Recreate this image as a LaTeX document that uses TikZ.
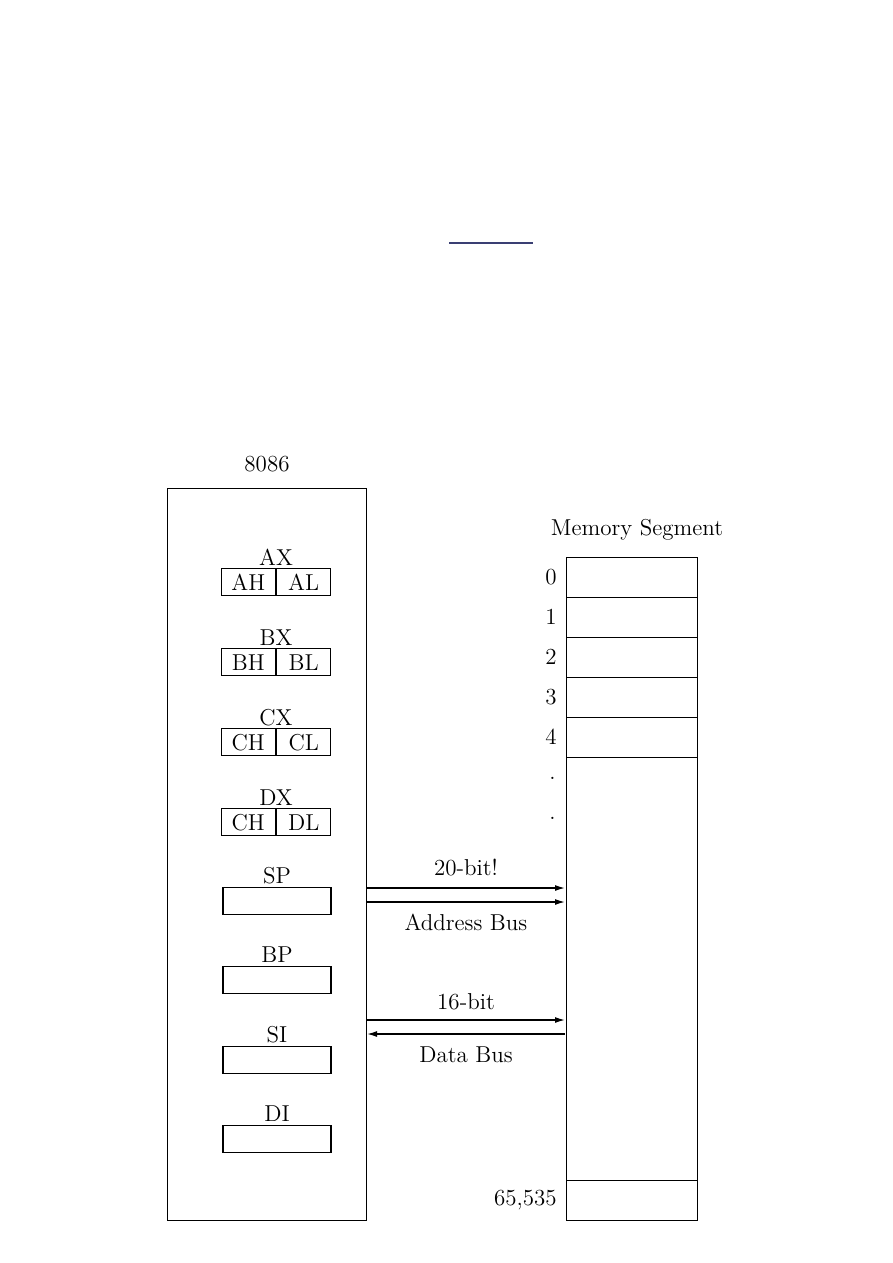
\documentclass[tikz,border=0pt]{standalone}
\usetikzlibrary{arrows.meta}
\definecolor{topline}{HTML}{3A3F73}
\begin{document}
\begin{tikzpicture}[x=0.5pt,y=-0.5pt,
  every node/.style={font=\fontsize{11.5}{13}\selectfont},
  box/.style={draw,line width=0.7pt,rectangle,inner sep=0pt},
  regbox/.style={box,minimum width=54pt,minimum height=13.5pt},
  halfbox/.style={box,minimum width=27pt,minimum height=13.5pt},
  cell/.style={box,minimum width=65.5pt,minimum height=20pt},
  lbl/.style={inner sep=0pt},
  bus/.style={line width=0.7pt,-{Latex[length=5pt,width=3pt]}}]
\useasboundingbox (0,0) rectangle (893,1263);
% stray line at top
\draw[topline,line width=0.6pt] (449,243) coordinate (tl1) -- (533,243) coordinate (tl2);
% CPU
\node[lbl] (title) at (267,464) {8086};
\node[box,minimum width=99.5pt,minimum height=366pt,anchor=north west] (cpu) at (167,488) {};
% split registers
\foreach \n/\h/\l/\t in {AX/AH/AL/568, BX/BH/BL/648, CX/CH/CL/728, DX/CH/DL/808}{
  \node[halfbox,anchor=north east] (\n h) at (276,\t) {\h};
  \node[halfbox,anchor=north west] (\n l) at (276,\t) {\l};
  \node[lbl,anchor=base] (\n name) at (276,\t-3) {\n};
}
% plain registers
\foreach \n/\t in {SP/887, BP/966, SI/1046, DI/1125}{
  \node[regbox,anchor=north] (\n) at (277,\t) {};
  \node[lbl,anchor=base] (\n name) at (277,\t-4) {\n};
}
% memory
\node[lbl] (memtitle) at (637,530) {Memory Segment};
\foreach \i/\t in {0/557,1/597,2/637,3/677,4/717}{
  \node[cell,anchor=north west] (m\i) at (566,\t) {};
  \node[lbl,anchor=east] (n\i) at (557,\t+20) {\i};
}
\node[box,minimum width=65.5pt,minimum height=211.5pt,anchor=north west] (mmid) at (566,757) {};
\node[cell,anchor=north west] (mlast) at (566,1180) {};
\node[lbl,anchor=east] (nlast) at (557,1200) {65,535};
\node[lbl,anchor=east] (d1) at (556,778) {.};
\node[lbl,anchor=east] (d2) at (556,818) {.};
% buses
\coordinate (a1s) at (367,888); \coordinate (a1e) at (565,888);
\coordinate (a2s) at (367,902); \coordinate (a2e) at (565,902);
\coordinate (d1s) at (367,1020); \coordinate (d1e) at (565,1020);
\coordinate (d2s) at (367,1034); \coordinate (d2e) at (565,1034);
\draw[bus] (a1s) -- (a1e);
\draw[bus] (a2s) -- (a2e);
\draw[bus] (d1s) -- (d1e);
\draw[bus] (d2e) -- (d2s);
\node[lbl] (addr1) at (466,868) {20-bit!};
\node[lbl] (addr2) at (466,922) {Address Bus};
\node[lbl] (data1) at (466,1002) {16-bit};
\node[lbl] (data2) at (466,1055) {Data Bus};
\end{tikzpicture}
\end{document}
